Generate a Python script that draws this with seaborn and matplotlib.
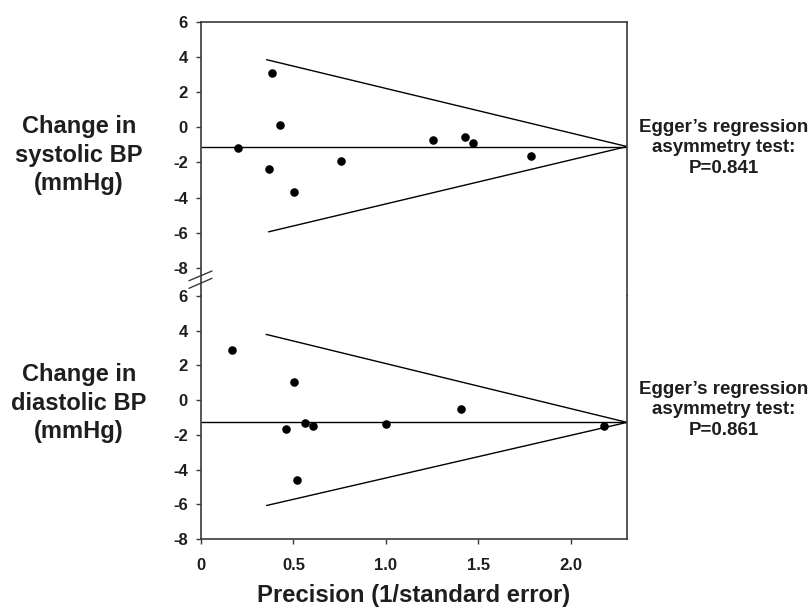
import matplotlib
matplotlib.use("Agg")
import matplotlib.pyplot as plt
import seaborn as sns
import pandas as pd
from matplotlib.lines import Line2D

# ---- data ----
sys_precision = [0.198, 0.382, 0.429, 0.366, 0.505, 0.758, 1.257, 1.429, 1.474, 1.786]
sys_change = [-1.21, 3.06, 0.10, -2.38, -3.70, -1.94, -0.75, -0.53, -0.92, -1.66]
dia_precision = [0.170, 0.503, 0.460, 0.563, 0.604, 1.000, 1.409, 0.521, 2.180]
dia_change = [2.91, 1.07, -1.69, -1.30, -1.48, -1.36, -0.52, -4.62, -1.48]

sys_pooled = -1.10
dia_pooled = -1.28
sys_funnel_x = [0.355, 2.305]
sys_funnel_upper = [3.84, -1.10]
sys_funnel_lower_x = [0.366, 2.305]
sys_funnel_lower = [-5.95, -1.10]
dia_funnel_x = [0.352, 2.305]
dia_funnel_upper = [3.79, -1.28]
dia_funnel_lower_x = [0.355, 2.305]
dia_funnel_lower = [-6.07, -1.28]

y_ticks = [-8, -6, -4, -2, 0, 2, 4, 6]
x_ticks = [0, 0.5, 1.0, 1.5, 2.0]
x_tick_labels = ["0", "0.5", "1.0", "1.5", "2.0"]
sys_label = "Change in\nsystolic BP\n(mmHg)"
dia_label = "Change in\ndiastolic BP\n(mmHg)"
sys_test = "Egger\u2019s regression\nasymmetry test:\nP=0.841"
dia_test = "Egger\u2019s regression\nasymmetry test:\nP=0.861"
x_label = "Precision (1/standard error)"

sns.set_theme(style="white")
plt.rcParams["font.family"] = ["Liberation Sans", "DejaVu Sans"]
plt.rcParams["font.weight"] = "bold"

W, H = 810, 611
fig = plt.figure(figsize=(W / 100, H / 100), dpi=100)

def fx(px):
    return px / W

def fy(py):
    return 1 - py / H

left, right = 201, 627
ax_top = fig.add_axes([fx(left), fy(296), fx(right - left), fy(21.7) - fy(296)])
ax_bot = fig.add_axes([fx(left), fy(539), fx(right - left), fy(296) - fy(539)])

spine_color = "#3a3a3a"
text_color = "#1e1e1e"

def draw_panel(ax, prec, change, pooled, fxu, fu, fxl, fl):
    ax.axhline(pooled, color="black", lw=1.0, zorder=2)
    sns.lineplot(x=fxu, y=fu, ax=ax, color="black", lw=1.0, estimator=None)
    sns.lineplot(x=fxl, y=fl, ax=ax, color="black", lw=1.0, estimator=None)
    sns.scatterplot(x=prec, y=change, ax=ax, color="black", s=38,
                    edgecolor="black", linewidth=0, zorder=3)
    ax.set_xlim(0, 2.305)
    ax.set_yticks(y_ticks)
    ax.set_yticklabels([str(t) for t in y_ticks], fontsize=12,
                       fontweight="bold", color=text_color)
    for s in ax.spines.values():
        s.set_color(spine_color)
        s.set_linewidth(1.2)
    ax.tick_params(axis="y", direction="out", length=3.5, width=1.0,
                   color=spine_color, pad=6, left=True)
    ax.set_xlabel("")
    ax.set_ylabel("")

draw_panel(ax_top, sys_precision, sys_change, sys_pooled,
           sys_funnel_x, sys_funnel_upper, sys_funnel_lower_x, sys_funnel_lower)
draw_panel(ax_bot, dia_precision, dia_change, dia_pooled,
           dia_funnel_x, dia_funnel_upper, dia_funnel_lower_x, dia_funnel_lower)

ax_top.set_ylim(-9.6, 6)
ax_top.spines["bottom"].set_visible(False)
ax_top.set_xticks([])
ax_bot.set_ylim(-8, 6)
ax_bot.spines["top"].set_visible(False)
ax_bot.set_xticks(x_ticks)
ax_bot.set_xticklabels(x_tick_labels, fontsize=12, fontweight="bold", color=text_color)
ax_bot.tick_params(axis="x", direction="out", length=3.5, width=1.0,
                   color=spine_color, pad=10, bottom=True)
ax_bot.set_xlabel(x_label, fontsize=17.2, fontweight="bold", color=text_color, labelpad=8)

# axis break marks
for y0, y1 in [(280.7, 271.0), (288.3, 278.3)]:
    fig.add_artist(Line2D([fx(189), fx(212)], [fy(y0), fy(y1)],
                          color=spine_color, lw=1.0))

# side labels
fig.text(fx(79), fy(155), sys_label, ha="center", va="center", fontsize=17,
         fontweight="bold", color=text_color, linespacing=1.33)
fig.text(fx(79), fy(403), dia_label, ha="center", va="center", fontsize=17,
         fontweight="bold", color=text_color, linespacing=1.33)
fig.text(fx(724), fy(148), sys_test, ha="center", va="center", fontsize=13.5,
         fontweight="bold", color=text_color, linespacing=1.28)
fig.text(fx(724), fy(410), dia_test, ha="center", va="center", fontsize=13.5,
         fontweight="bold", color=text_color, linespacing=1.28)

fig.savefig("out.png", dpi=100, facecolor="white")
